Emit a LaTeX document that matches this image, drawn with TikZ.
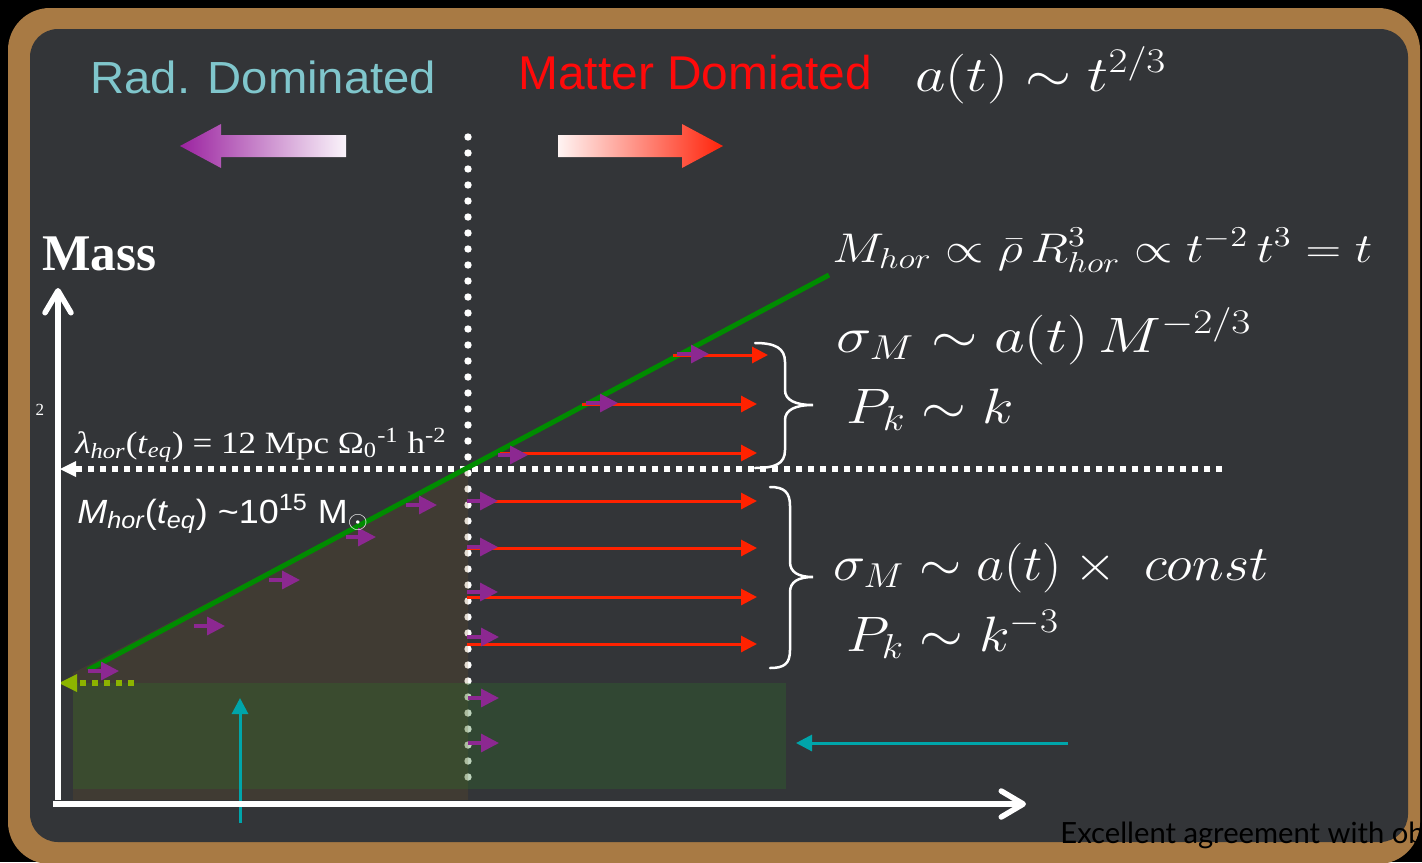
\documentclass[tikz,border=0pt]{standalone}
\usepackage{fontspec}
\usetikzlibrary{arrows.meta}
\newfontfamily\arialf{Liberation Sans}
\newfontfamily\serff{Liberation Serif}
\newfontfamily\latof{Lato}
\definecolor{boardc}{RGB}{51,53,56}
\definecolor{framec}{RGB}{168,122,68}
\definecolor{radc}{RGB}{128,198,204}
\definecolor{mattc}{RGB}{255,10,10}
\definecolor{purbig}{RGB}{155,35,160}
\definecolor{redbig}{RGB}{255,35,10}
\definecolor{greenl}{RGB}{0,140,0}
\definecolor{olivec}{RGB}{140,180,0}
\definecolor{tealc}{RGB}{0,165,170}
\definecolor{redarrc}{RGB}{255,34,0}
\definecolor{purc}{RGB}{140,40,145}
\definecolor{brownreg}{RGB}{120,85,35}
\definecolor{greenreg}{RGB}{45,115,40}
\tikzset{
  redarr/.style={draw=redarrc, line width=1.5pt, -{Triangle[length=8pt,width=8pt]}},
  purarr/.style={draw=purc, line width=1.6pt, -{Triangle[length=9pt,width=9pt]}},
  tealarr/.style={draw=tealc, line width=1.5pt, -{Triangle[length=8pt,width=8pt]}},
  axisarr/.style={draw=white, line width=2.75pt, -{Straight Barb[length=11pt,width=13pt,round]}},
  bracec/.style={draw=white, line width=1.25pt, line cap=round},
  mathtxt/.style={anchor=base west, inner sep=0pt, text=white},
  sqdots/.style={line width=3pt, dash pattern=on 3pt off 3pt},
}
\begin{document}
\begin{tikzpicture}[x=0.5pt,y=-0.5pt]
\useasboundingbox (0,0) rectangle (1422,862);
\fill[black] (0,0) rectangle (1422,862);
\fill[framec, rounded corners=21pt] (8,8) rectangle (1420,864);
\fill[boardc, rounded corners=14pt] (30,29) rectangle (1408,842);

% titles
\node[anchor=base west, inner sep=0pt, text=radc, font=\arialf\fontsize{22.5}{26}\selectfont, xscale=1.05] (rad) at (90,93) {Rad. Dominated};
\node[anchor=base west, inner sep=0pt, text=mattc, font=\arialf\fontsize{23.7}{28}\selectfont, xscale=1.01] (mat) at (518,89) {Matter Domiated};
\node[mathtxt, font=\fontsize{24.5}{28}\selectfont, xscale=1.19] (at) at (915,91) {$a(t)\sim t^{2/3}$};

% big gradient arrows
\shade[left color=purbig, right color=white!95!purbig] (180,146) -- (221,124) -- (221,135) -- (346,135) -- (346,157) -- (221,157) -- (221,168) -- cycle;
\shade[left color=white!95!redbig, right color=redbig] (558,135) -- (682,135) -- (682,124) -- (723,146) -- (682,168) -- (682,157) -- (558,157) -- cycle;

% vertical dotted line
\draw[white, line width=3.7pt, line cap=round, dash pattern=on 0pt off 8pt] (468,137) -- (468,780);

% regions
\fill[brownreg, opacity=0.2] (73,673) -- (468,467) -- (468,800) -- (73,800) -- cycle;
\fill[greenreg, opacity=0.3] (73,683) rectangle (786,789);

% horizontal dotted line with head
\draw[white, sqdots] (76,469) -- (1222,469);
\fill[white] (60,469) -- (76,461) -- (76,477) -- cycle;

% olive dotted arrow
\draw[olivec, sqdots] (80,683) -- (136,683);
\fill[olivec] (59,683) -- (77,674) -- (77,692) -- cycle;

% green line
\draw[greenl, line width=2.5pt] (88,670) -- (829,275);

% red arrows
\draw[redarr] (673,355) -- (768,355);
\draw[redarr] (582,404) -- (757,404);
\draw[redarr] (500,453) -- (757,453);
\draw[redarr] (467,501) -- (757,501);
\draw[redarr] (467,548) -- (757,548);
\draw[redarr] (467,597) -- (757,597);
\draw[redarr] (467,644) -- (757,644);

% purple arrows
\foreach \xa/\xb/\yy in {88/119/671, 194/225/626, 269/300/580, 346/376/537, 406/437/505,
  467/498/501, 467/498/547, 467/498/592, 467/499/637, 468/499/698, 468/499/743,
  498/528/455, 586/618/403, 677/709/354}
  \draw[purarr] (\xa,\yy) -- (\xb,\yy);

% teal arrows
\draw[tealarr] (240,823) -- (240,698);
\draw[tealarr] (1068,743) -- (796,743);

% axes
\draw[axisarr] (58,800) -- (58,288);
\draw[axisarr] (53,804) -- (1026,804);

% braces
\draw[bracec] (755,343) .. controls (775,343) and (785,348) .. (785,362) -- (785,390)
  .. controls (785,400) and (795,405) .. (813,405)
  .. controls (795,405) and (785,410) .. (785,420) -- (785,450)
  .. controls (785,464) and (775,468) .. (755,468);
\draw[bracec] (770,487) .. controls (784,487) and (790,492) .. (790,506) -- (790,562)
  .. controls (790,572) and (798,577) .. (813,577)
  .. controls (798,577) and (790,582) .. (790,592) -- (790,650)
  .. controls (790,664) and (784,668) .. (770,668);

% axis label and annotations
\node[anchor=base west, inner sep=0pt, text=white, font=\serff\bfseries\fontsize{25.7}{30}\selectfont] (mass) at (42,270) {Mass};
\node[inner sep=0pt, text=white, font=\serff\fontsize{8.5}{10}\selectfont] (two) at (40,410) {2};
\node[anchor=base west, inner sep=0pt, text=white, font=\serff\fontsize{15.5}{18}\selectfont, xscale=1.13] (lam) at (75,453)
  {\textit{λ\textsubscript{hor}}(\textit{t}\textsubscript{\itshape eq}) = 12 Mpc Ω\textsubscript{0}\textsuperscript{-1} h\textsuperscript{-2}};
\node[anchor=base west, inner sep=0pt, text=white, font=\arialf\fontsize{16.8}{20}\selectfont, xscale=1.07] (mhor) at (77,523)
  {\textit{M\textsubscript{hor}}(\textit{t\textsubscript{eq}}) \textasciitilde10\textsuperscript{15} M\textsubscript{$\odot$}};

% formulas
\node[mathtxt, font=\fontsize{21}{25}\selectfont, xscale=1.19] (f1) at (832,262) {$M_{hor}\propto\bar{\rho}\,R^3_{hor}\propto t^{-2}\,t^3=t$};
\node[mathtxt, font=\fontsize{26}{30}\selectfont, xscale=1.2] (f2) at (836,352) {$\sigma_M\sim a(t)\,M^{-2/3}$};
\node[mathtxt, font=\fontsize{24}{28}\selectfont, xscale=1.16] (f3) at (846,423) {$P_k\sim k$};
\node[mathtxt, font=\fontsize{23.7}{28}\selectfont, xscale=1.09] (f4) at (833,580) {$\sigma_M\sim a(t)\times\ const$};
\node[mathtxt, font=\fontsize{23.7}{28}\selectfont, xscale=1.13] (f5) at (846,651) {$P_k\sim k^{-3}$};

% footer text
\node[anchor=base west, inner sep=0pt, text=black, font=\latof\fontsize{14.6}{18}\selectfont] (exc) at (1060,843) {Excellent agreement with ob};
\end{tikzpicture}
\end{document}
